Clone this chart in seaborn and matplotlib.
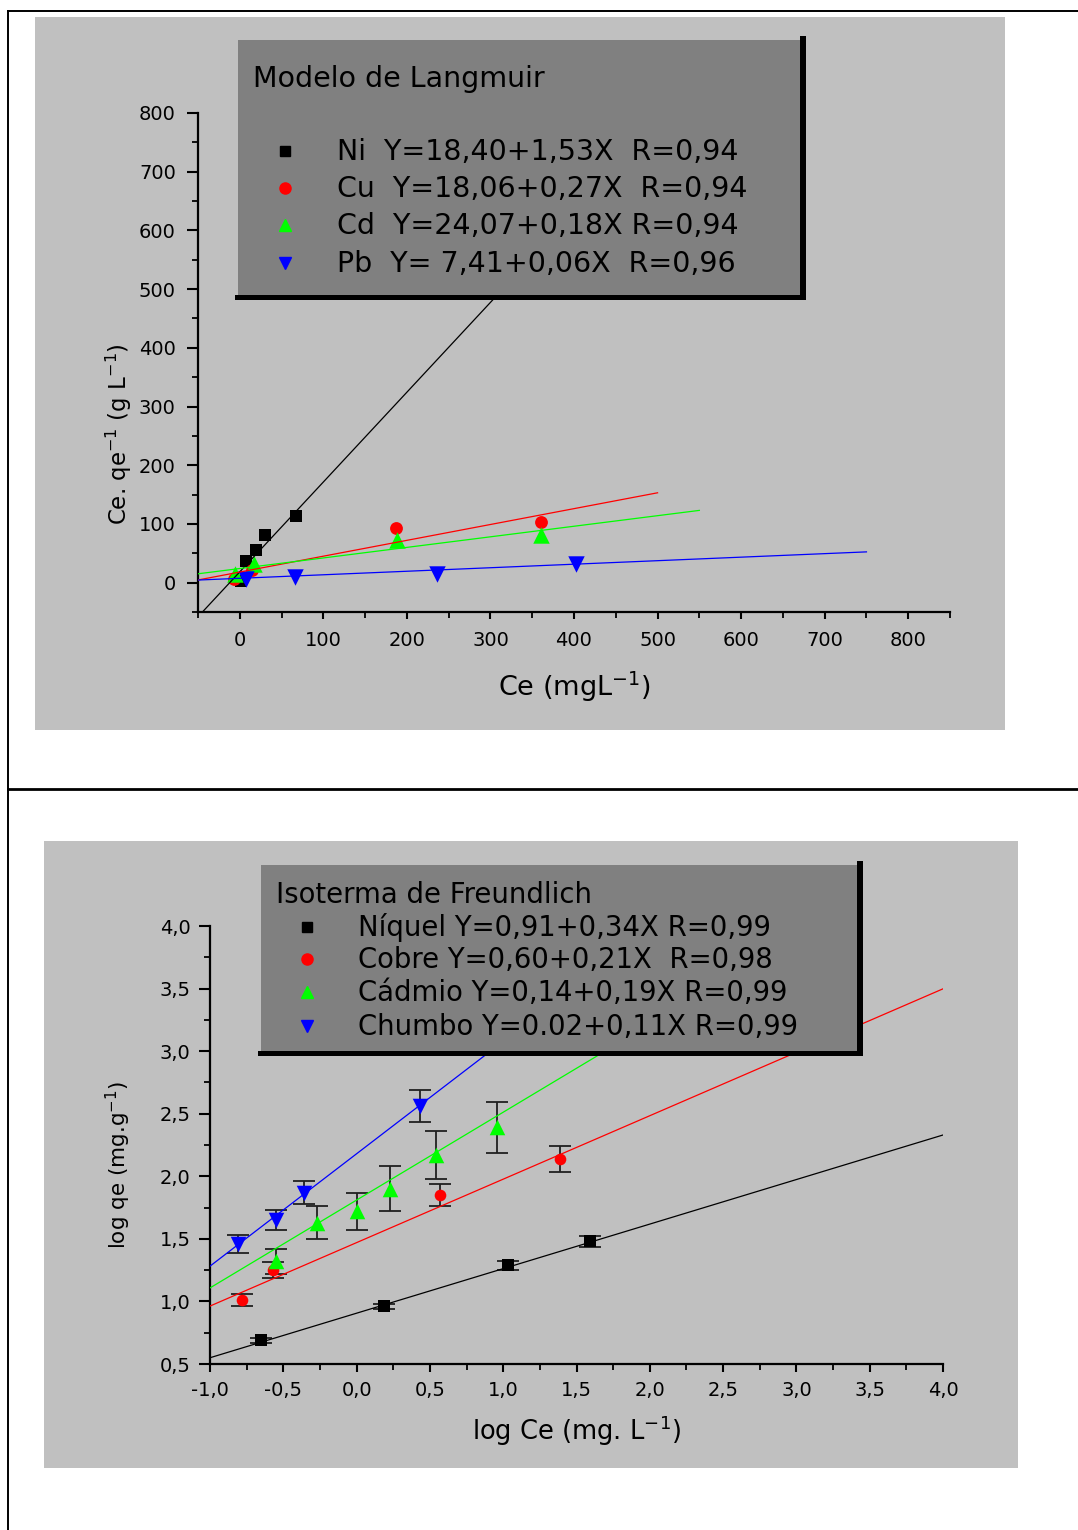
import numpy as np
import matplotlib
matplotlib.use("Agg")
import matplotlib.pyplot as plt
from matplotlib.patches import Rectangle
from matplotlib.lines import Line2D
from matplotlib.transforms import Affine2D
from matplotlib.ticker import MultipleLocator
import seaborn as sns

plt.rcParams['font.family'] = ['DejaVu Sans']
plt.rcParams['axes.unicode_minus'] = False

# ---- Langmuir data: Ce (mg/L) vs Ce/qe (g/L) ----
ni_ce = [1, 8, 20, 30, 67]
ni_ceqe = [2, 37, 55, 82, 114]
cu_ce = [-7, 15, 187, 360]
cu_ceqe = [7, 22, 93, 103]
cd_ce = [-6, 17, 188, 361]
cd_ceqe = [14, 32, 73, 82]
pb_ce = [8, 66, 236, 402]
pb_ceqe = [7, 9, 15, 31]

# fitted lines: intercept, slope, x range
lang_fits = [(18.40, 1.53, (-50, 520)),
             (18.06, 0.27, (-50, 500)),
             (24.07, 0.18, (-50, 550)),
             (7.41, 0.06, (-50, 750))]
lang_labels = ["Ni  Y=18,40+1,53X  R=0,94",
               "Cu  Y=18,06+0,27X  R=0,94",
               "Cd  Y=24,07+0,18X R=0,94",
               "Pb  Y= 7,41+0,06X  R=0,96"]

# ---- Freundlich data: log Ce vs log qe, with error bars ----
ni_logce = [-0.65, 0.19, 1.03, 1.59]
ni_logqe = [0.69, 0.96, 1.29, 1.48]
ni_err = [0.02, 0.02, 0.035, 0.045]
cu_logce = [-0.78, -0.57, 0.57, 1.39]
cu_logqe = [1.01, 1.25, 1.85, 2.14]
cu_err = [0.05, 0.065, 0.09, 0.105]
cd_logce = [-0.55, -0.27, 0.0, 0.23, 0.54, 0.96]
cd_logqe = [1.32, 1.63, 1.72, 1.90, 2.17, 2.39]
cd_err = [0.10, 0.13, 0.15, 0.18, 0.19, 0.20]
pb_logce = [-0.81, -0.55, -0.36, 0.43]
pb_logqe = [1.46, 1.65, 1.87, 2.56]
pb_err = [0.07, 0.08, 0.095, 0.13]

frd_fits = [(0.906, 0.356), (1.47, 0.507), (1.81, 0.702), (2.18, 0.898)]
frd_labels = ["Níquel Y=0,91+0,34X R=0,99",
              "Cobre Y=0,60+0,21X  R=0,98",
              "Cádmio Y=0,14+0,19X R=0,99",
              "Chumbo Y=0.02+0,11X R=0,99"]
frd_xticks = [-1.0, -0.5, 0.0, 0.5, 1.0, 1.5, 2.0, 2.5, 3.0, 3.5, 4.0]
frd_xticklabels = ["-1,0", "-0,5", "0,0", "0,5", "1,0", "1,5", "2,0", "2,5", "3,0", "3,5", "4,0"]
frd_yticks = [0.5, 1.0, 1.5, 2.0, 2.5, 3.0, 3.5, 4.0]
frd_yticklabels = ["0,5", "1,0", "1,5", "2,0", "2,5", "3,0", "3,5", "4,0"]

colors = ['black', '#ff0000', '#00ff00', '#0000ff']
markers = ['s', 'o', '^', 'v']
msizes = [85, 85, 140, 140]

W, H = 1078, 1530
fig = plt.figure(figsize=(W / 100, H / 100), dpi=100)
px = Affine2D().scale(1 / W, -1 / H).translate(0, 1) + fig.transFigure

# page frame and gray panels
for (x0, y0, x1, y1) in [(35, 17, 1005, 730), (44, 841, 1018, 1468)]:
    fig.add_artist(Rectangle((x0, y0), x1 - x0, y1 - y0, transform=px,
                             facecolor='#c0c0c0', edgecolor='none', zorder=-5))
fig.add_artist(Line2D([8, 1078], [11, 11], transform=px, color='black', lw=1.4))
fig.add_artist(Line2D([8, 1078], [789, 789], transform=px, color='black', lw=2.0))
fig.add_artist(Line2D([8, 8], [11, 1530], transform=px, color='black', lw=1.4))


def style_axes(ax):
    ax.set_facecolor('none')
    for s in ['top', 'right']:
        ax.spines[s].set_visible(False)
    for s in ['left', 'bottom']:
        ax.spines[s].set_linewidth(1.6)


def legend_box(x0, y0, x1, y1, title, title_base, labels, bases, mx, tx, fs):
    fig.add_artist(Rectangle((x0 - 3, y1), x1 - x0 + 9, 5, transform=px,
                             facecolor='black', edgecolor='none', zorder=5))
    fig.add_artist(Rectangle((x1, y0 - 4), 6, y1 - y0 + 9, transform=px,
                             facecolor='black', edgecolor='none', zorder=5))
    fig.add_artist(Rectangle((x0, y0), x1 - x0, y1 - y0, transform=px,
                             facecolor='#808080', edgecolor='none', zorder=5))
    fig.text(x0 + 15, title_base, title, transform=px, fontsize=fs,
             va='baseline', ha='left', zorder=6)
    for lab, b, c, m in zip(labels, bases, colors, markers):
        fig.text(tx, b, lab, transform=px, fontsize=fs, va='baseline',
                 ha='left', zorder=6)
        fig.add_artist(Line2D([mx], [b - 9], transform=px, marker=m, color=c,
                              ms=8 if m != 's' else 7, ls='none', zorder=6))


# ---------------- Langmuir ----------------
ax1 = fig.add_axes([198 / W, 1 - 612 / H, 752 / W, 499 / H])
style_axes(ax1)
lang_sets = [(ni_ce, ni_ceqe), (cu_ce, cu_ceqe), (cd_ce, cd_ceqe), (pb_ce, pb_ceqe)]
for i, (xs, ys) in enumerate(lang_sets):
    sns.scatterplot(x=xs, y=ys, marker=markers[i], color=colors[i], s=msizes[i],
                    linewidth=0, ax=ax1, zorder=2 + i * 0.1)
for i, (a, b, (lo, hi)) in enumerate(lang_fits):
    xl = np.array([lo, hi], dtype=float)
    ax1.plot(xl, a + b * xl, color=colors[i], lw=0.9, zorder=3)
ax1.set_xlim(-50, 850)
ax1.set_ylim(-50, 800)
ax1.set_xticks(range(0, 801, 100))
ax1.set_yticks(range(0, 801, 100))
ax1.xaxis.set_minor_locator(MultipleLocator(50))
ax1.yaxis.set_minor_locator(MultipleLocator(50))
ax1.tick_params(axis='x', which='major', direction='out', length=5, width=1.5, pad=9, labelsize=14)
ax1.tick_params(axis='y', which='major', direction='out', length=8, width=1.5, pad=8, labelsize=14)
ax1.tick_params(which='minor', direction='out', length=4, width=1.3)
ax1.set_xlabel("Ce (mgL$^{-1}$)", fontsize=19.5, labelpad=14)
ax1.set_ylabel("Ce. qe$^{-1}$ (g L$^{-1}$)", fontsize=16.5)
ax1.yaxis.set_label_coords(-0.085, 0.357)

legend_box(238, 40, 800, 295, "Modelo de Langmuir", 87, lang_labels,
           [160, 197, 234, 272], 285, 337, 20.5)

# ---------------- Freundlich ----------------
ax2 = fig.add_axes([210 / W, 1 - 1364 / H, 733 / W, 438 / H])
style_axes(ax2)
frd_sets = [(ni_logce, ni_logqe, ni_err), (cu_logce, cu_logqe, cu_err),
            (cd_logce, cd_logqe, cd_err), (pb_logce, pb_logqe, pb_err)]
for i, (xs, ys, es) in enumerate(frd_sets):
    ax2.errorbar(xs, ys, yerr=es, fmt='none', ecolor='#202020', elinewidth=1.3,
                 capsize=8, capthick=1.3, zorder=1.5)
    sns.scatterplot(x=xs, y=ys, marker=markers[i], color=colors[i], s=msizes[i] - 15,
                    linewidth=0, ax=ax2, zorder=2 + i * 0.1)
for i, (a, b) in enumerate(frd_fits):
    xl = np.array([-1.0, 4.0])
    ax2.plot(xl, a + b * xl, color=colors[i], lw=0.9, zorder=3)
ax2.set_xlim(-1.0, 4.0)
ax2.set_ylim(0.5, 4.0)
ax2.set_xticks(frd_xticks, frd_xticklabels)
ax2.set_yticks(frd_yticks, frd_yticklabels)
ax2.xaxis.set_minor_locator(MultipleLocator(0.25))
ax2.yaxis.set_minor_locator(MultipleLocator(0.25))
ax2.tick_params(axis='x', which='major', direction='out', length=6, width=1.5, pad=6, labelsize=14)
ax2.tick_params(axis='y', which='major', direction='out', length=8, width=1.5, pad=6, labelsize=14)
ax2.tick_params(which='minor', direction='out', length=4, width=1.3)
ax2.set_xlabel("log Ce (mg. L$^{-1}$)", fontsize=18.5, labelpad=10)
ax2.set_ylabel("log qe (mg.g$^{-1}$)", fontsize=15.5)
ax2.yaxis.set_label_coords(-0.105, 0.454)

legend_box(261, 865, 857, 1051, "Isoterma de Freundlich", 903, frd_labels,
           [936, 968, 1001, 1035], 307, 358, 19.8)

fig.savefig("out.png", dpi=100)
